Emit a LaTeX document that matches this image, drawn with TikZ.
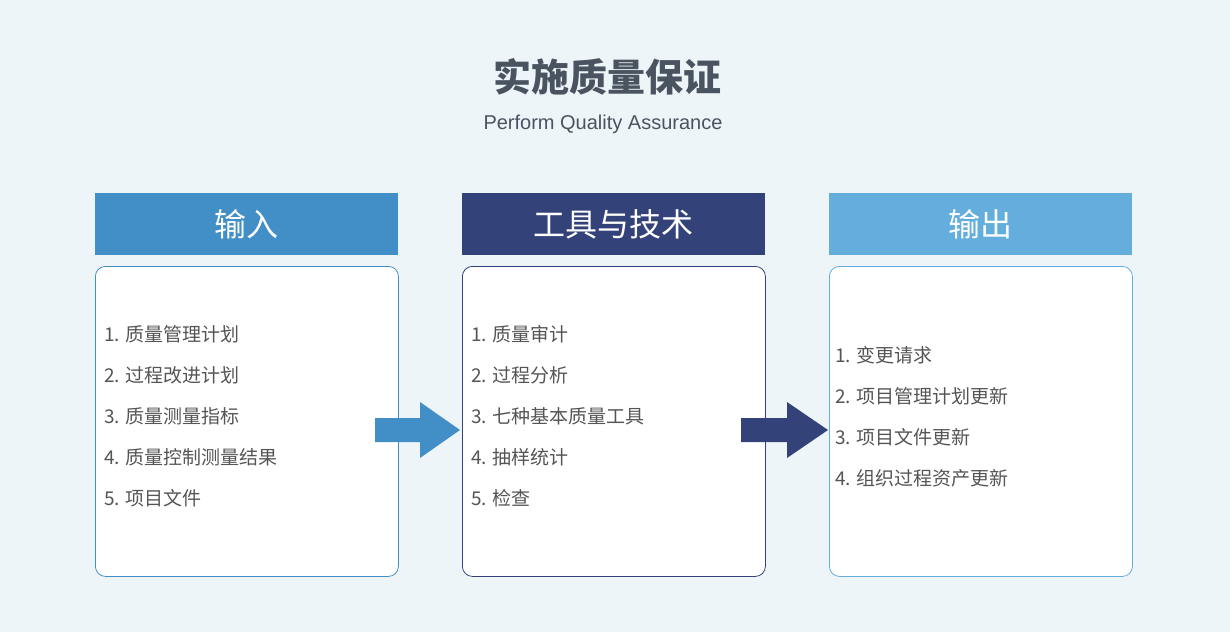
\documentclass[tikz,border=0pt]{standalone}
\usepackage{fontspec}
\setmainfont{Noto Sans CJK SC}
\newfontfamily\lat{Liberation Sans}
\definecolor{bg}{HTML}{EEF5F9}
\definecolor{cA}{HTML}{418FC6}
\definecolor{cB}{HTML}{33437A}
\definecolor{cC}{HTML}{63AEDC}
\definecolor{tt}{HTML}{4A5460}
\definecolor{it}{HTML}{555555}
\begin{document}
\begin{tikzpicture}[x=1pt,y=-1pt,
 hdr/.style={minimum width=303pt,minimum height=62pt,inner sep=0,text=white,font=\fontsize{32}{36}\selectfont,anchor=north west},
 box/.style={draw=#1,fill=white,rounded corners=10pt,minimum width=303pt,minimum height=310pt,anchor=north west,line width=0.8pt},
 item/.style={text=it,font=\fontsize{19}{22}\selectfont,anchor=west,inner sep=0}]
\fill[bg] (0,0) rectangle (1230,632);
\useasboundingbox (0,0) rectangle (1230,632);
\node[text=tt,font=\bfseries\fontsize{38}{44}\selectfont] (title) at (607,77) {实施质量保证};
\node[text=tt,font=\lat\fontsize{20}{24}\selectfont] (sub) at (603,124) {Perform Quality Assurance};
\node[hdr,fill=cA] (h1) at (95,193) {输入};
\node[hdr,fill=cB] (h2) at (462,193) {工具与技术};
\node[hdr,fill=cC] (h3) at (829,193) {输出};
\node[box=cA] (b1) at (95,266) {};
\node[box=cB] (b2) at (462,266) {};
\node[box=cC] (b3) at (829,266) {};
\foreach \t [count=\i] in {质量管理计划,过程改进计划,质量测量指标,质量控制测量结果,项目文件}
  \node[item] (l\i) at (104,293+41*\i) {\i. \t};
\foreach \t [count=\i] in {质量审计,过程分析,七种基本质量工具,抽样统计,检查}
  \node[item] (m\i) at (471,293+41*\i) {\i. \t};
\foreach \t [count=\i] in {变更请求,项目管理计划更新,项目文件更新,组织过程资产更新}
  \node[item] (r\i) at (835,314+41*\i) {\i. \t};
\fill[cA] (375,418) -- (420,418) -- (420,402) -- (460,430) -- (420,458) -- (420,442) -- (375,442) -- cycle;
\fill[cB] (741,418) -- (787,418) -- (787,402) -- (828,430) -- (787,458) -- (787,442) -- (741,442) -- cycle;
\end{tikzpicture}
\end{document}
